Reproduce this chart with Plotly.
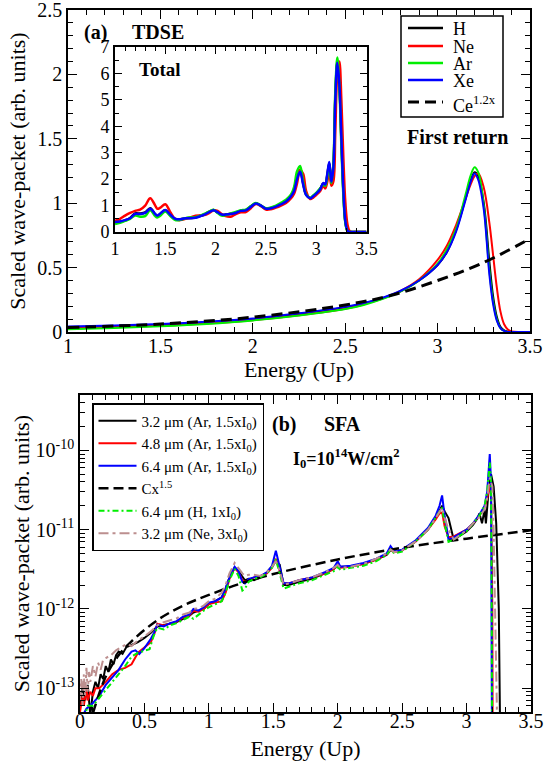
import plotly.graph_objects as go

# ---------------- data: panel (a) first return ----------------
X_FR = [1.0, 1.25, 1.5, 1.75, 2.0, 2.25, 2.5, 2.6, 2.7, 2.8, 2.9, 3.0, 3.05, 3.1,
        3.15, 3.18, 3.2, 3.22, 3.25, 3.28, 3.3, 3.32, 3.34, 3.36, 3.38, 3.4, 3.45, 3.5]
FR_H = [0.034, 0.043, 0.056, 0.074, 0.10, 0.14, 0.19, 0.22, 0.26, 0.315, 0.40, 0.52, 0.62, 0.79,
        1.03, 1.18, 1.24, 1.21, 1.0, 0.55, 0.28, 0.12, 0.04, 0.012, 0.003, 0.0, 0.0, 0.0]
FR_NE = [0.028, 0.036, 0.048, 0.066, 0.092, 0.13, 0.18, 0.215, 0.26, 0.32, 0.41, 0.56, 0.67, 0.83,
         1.03, 1.15, 1.21, 1.23, 1.12, 0.85, 0.60, 0.35, 0.16, 0.06, 0.02, 0.004, 0.0, 0.0]
FR_AR = [0.022, 0.032, 0.045, 0.063, 0.09, 0.128, 0.178, 0.21, 0.255, 0.315, 0.40, 0.53, 0.64, 0.80,
         1.06, 1.22, 1.28, 1.24, 0.98, 0.48, 0.24, 0.10, 0.03, 0.008, 0.0, 0.0, 0.0, 0.0]
FR_XE = [0.042, 0.05, 0.062, 0.08, 0.105, 0.145, 0.195, 0.225, 0.265, 0.32, 0.40, 0.52, 0.62, 0.78,
         1.02, 1.17, 1.23, 1.18, 0.95, 0.45, 0.22, 0.09, 0.03, 0.008, 0.0, 0.0, 0.0, 0.0]
X_CE = [1.0, 1.5, 2.0, 2.5, 2.75, 3.0, 3.25, 3.5]
Y_CE = [0.035, 0.062, 0.115, 0.21, 0.285, 0.40, 0.54, 0.725]
LEGEND_A = ["H", "Ne", "Ar", "Xe", "Ce<sup>1.2x</sup>"]

# ---------------- data: inset "Total" ----------------
X_TOT = [1.0, 1.05, 1.1, 1.15, 1.2, 1.25, 1.3, 1.35, 1.4, 1.42, 1.45, 1.5, 1.55, 1.6, 1.65, 1.7,
         1.75, 1.8, 1.85, 1.9, 1.95, 1.98, 2.02, 2.06, 2.1, 2.15, 2.2, 2.25, 2.3, 2.35, 2.4, 2.45,
         2.5, 2.55, 2.6, 2.65, 2.7, 2.75, 2.78, 2.81, 2.84, 2.87, 2.9, 2.94, 2.97, 3.0, 3.04, 3.07,
         3.09, 3.11, 3.13, 3.15, 3.17, 3.19, 3.21, 3.23, 3.25, 3.27, 3.29, 3.31, 3.33, 3.35, 3.4, 3.5]
TOT_H = [0.36, 0.39, 0.44, 0.53, 0.70, 0.70, 0.74, 0.90, 0.66, 0.60, 0.68, 0.82, 0.63, 0.49, 0.48, 0.52,
         0.53, 0.55, 0.61, 0.69, 0.79, 0.83, 0.74, 0.65, 0.66, 0.69, 0.73, 0.81, 0.83, 0.96, 1.09, 1.0,
         0.88, 0.91, 0.97, 1.06, 1.17, 1.37, 1.6, 2.1, 2.35, 1.85, 1.42, 1.28, 1.35, 1.46, 1.63, 1.84,
         1.78, 2.15, 2.6, 1.88, 2.45, 5.1, 6.45, 5.6, 3.5, 1.55, 0.38, 0.05, 0.0, 0.0, 0.0, 0.0]
TOT_NE = [0.42, 0.50, 0.62, 0.72, 0.80, 0.85, 1.0, 1.28, 1.0, 0.88, 0.92, 1.05, 0.75, 0.48, 0.45, 0.50,
          0.55, 0.62, 0.63, 0.65, 0.75, 0.82, 0.80, 0.68, 0.60, 0.58, 0.68, 0.75, 0.75, 0.90, 1.06, 0.98,
          0.85, 0.86, 0.92, 1.0, 1.10, 1.28, 1.45, 1.85, 2.35, 2.2, 1.55, 1.25, 1.30, 1.40, 1.55, 1.75,
          1.65, 1.9, 2.4, 1.75, 1.9, 3.8, 6.0, 6.45, 5.0, 2.8, 1.1, 0.3, 0.05, 0.0, 0.0, 0.0]
TOT_AR = [0.30, 0.35, 0.42, 0.50, 0.62, 0.58, 0.60, 0.82, 0.60, 0.55, 0.62, 0.78, 0.60, 0.45, 0.46, 0.52,
          0.55, 0.56, 0.62, 0.70, 0.80, 0.84, 0.72, 0.62, 0.64, 0.70, 0.76, 0.82, 0.85, 0.98, 1.10, 1.0,
          0.90, 0.93, 1.0, 1.1, 1.22, 1.42, 1.7, 2.3, 2.5, 1.9, 1.42, 1.3, 1.38, 1.48, 1.65, 1.80,
          1.75, 2.1, 2.5, 1.85, 2.5, 5.3, 6.6, 5.5, 3.3, 1.4, 0.35, 0.05, 0.0, 0.0, 0.0, 0.0]
TOT_XE = [0.38, 0.40, 0.45, 0.52, 0.68, 0.68, 0.72, 0.88, 0.68, 0.62, 0.70, 0.83, 0.65, 0.50, 0.48, 0.52,
          0.52, 0.54, 0.60, 0.68, 0.78, 0.82, 0.75, 0.66, 0.66, 0.68, 0.72, 0.80, 0.82, 0.95, 1.08, 1.0,
          0.88, 0.90, 0.96, 1.05, 1.15, 1.35, 1.55, 2.0, 2.28, 1.8, 1.40, 1.28, 1.35, 1.45, 1.62, 1.85,
          1.80, 2.2, 2.65, 1.9, 2.4, 5.0, 6.4, 5.6, 3.6, 1.6, 0.40, 0.06, 0.0, 0.0, 0.0, 0.0]

# ---------------- data: panel (b) SFA ----------------
XB = [0.60, 0.65, 0.70, 0.75, 0.80, 0.85, 0.88, 0.92, 0.96, 1.00, 1.05, 1.10, 1.13, 1.16, 1.20, 1.23,
      1.26, 1.28, 1.31, 1.35, 1.40, 1.45, 1.49, 1.52, 1.55, 1.58, 1.62, 1.70, 1.80, 1.90, 1.97, 2.00,
      2.02, 2.10, 2.20, 2.30, 2.38, 2.41, 2.44, 2.50, 2.60, 2.70, 2.76, 2.79, 2.81, 2.83, 2.86, 2.90, 3.00]

AR32_LO_X = [0.0, 0.02, 0.04, 0.06, 0.08, 0.1, 0.12, 0.14, 0.16, 0.18, 0.2, 0.22, 0.24, 0.26, 0.28,
             0.3, 0.33, 0.36, 0.4, 0.45, 0.5, 0.55]
AR32_LO_Y = [6e-14, 1.0e-13, 7e-14, 1.1e-13, 4.5e-14, 9e-14, 1.2e-13, 1.0e-13, 1.5e-13, 1.3e-13, 1.9e-13,
             1.6e-13, 2.3e-13, 2.0e-13, 2.6e-13, 2.9e-13, 2.7e-13, 3.3e-13, 3.5e-13, 3.8e-13, 4.3e-13, 5.0e-13]
AR32_MID = [6.0e-13, 6.3e-13, 6.5e-13, 6.8e-13, 7.5e-13, 8.2e-13, 9.0e-13, 9.5e-13, 1.0e-12, 1.15e-12,
            1.25e-12, 1.4e-12, 1.8e-12, 2.5e-12, 3.3e-12, 3.0e-12, 2.5e-12, 2.3e-12, 2.4e-12, 2.3e-12,
            2.5e-12, 2.9e-12, 3.4e-12, 4.0e-12, 3.6e-12, 2.0e-12, 2.0e-12, 2.2e-12, 2.4e-12, 2.8e-12,
            3.2e-12, 3.6e-12, 3.4e-12, 3.4e-12, 3.7e-12, 4.2e-12, 4.8e-12, 5.5e-12, 5.3e-12, 5.5e-12,
            7.0e-12, 1.0e-11, 1.4e-11, 1.7e-11, 2.0e-11, 1.7e-11, 1.4e-11, 7.5e-12, 9.5e-12]
AR32_HI_X = [3.05, 3.08, 3.10, 3.12, 3.14, 3.15, 3.17, 3.19, 3.21, 3.23, 3.25, 3.265, 3.27]
AR32_HI_Y = [1.15e-11, 1.35e-11, 1.6e-11, 1.2e-11, 1.8e-11, 1.2e-11, 3.0e-11, 5.0e-11, 3.5e-11,
             1.2e-11, 1.0e-12, 8e-14, 1e-15]

AR48_LO_X = [0.0, 0.02, 0.03, 0.05, 0.06, 0.08, 0.1, 0.12, 0.15, 0.2, 0.25, 0.3, 0.35, 0.4, 0.45,
             0.5, 0.55, 0.58]
AR48_LO_Y = [5e-14, 8e-14, 6e-14, 1.0e-13, 7e-14, 9e-14, 8e-14, 1.0e-13, 1.0e-13, 1.2e-13, 1.5e-13,
             1.7e-13, 1.8e-13, 2.0e-13, 2.8e-13, 3.3e-13, 3.8e-13, 5.0e-13]
AR48_MID = [6.5e-13, 6.2e-13, 6.5e-13, 6.9e-13, 7.8e-13, 8.3e-13, 9.5e-13, 9.2e-13, 1.0e-12, 1.15e-12,
            1.2e-12, 1.25e-12, 1.6e-12, 2.4e-12, 3.3e-12, 2.9e-12, 2.3e-12, 2.2e-12, 2.3e-12, 2.5e-12,
            2.6e-12, 2.8e-12, 3.3e-12, 4.3e-12, 3.0e-12, 2.1e-12, 2.1e-12, 2.3e-12, 2.5e-12, 2.8e-12,
            3.2e-12, 3.6e-12, 3.3e-12, 3.4e-12, 3.7e-12, 4.2e-12, 4.9e-12, 5.6e-12, 5.2e-12, 5.5e-12,
            7.0e-12, 1.0e-11, 1.35e-11, 1.6e-11, 1.65e-11, 1.1e-11, 8.0e-12, 8.2e-12, 1.0e-11]
AR48_HI_X = [3.05, 3.10, 3.14, 3.16, 3.18, 3.19, 3.20, 3.205]
AR48_HI_Y = [1.2e-11, 1.5e-11, 1.9e-11, 2.5e-11, 3.5e-11, 3.0e-11, 1e-12, 1e-15]

AR64_LO_X = [0.02, 0.05, 0.1, 0.15, 0.2, 0.25, 0.3, 0.35, 0.4, 0.43, 0.46, 0.5, 0.55, 0.58]
AR64_LO_Y = [4.5e-14, 5.5e-14, 6.5e-14, 8e-14, 1.1e-13, 1.35e-13, 1.7e-13, 2.3e-13, 2.9e-13, 3.0e-13,
             2.7e-13, 3.2e-13, 4.2e-13, 5.2e-13]
AR64_MID = [6.3e-13, 6.0e-13, 6.6e-13, 7.0e-13, 8.0e-13, 8.5e-13, 1.0e-12, 9.5e-13, 1.05e-12, 1.2e-12,
            1.25e-12, 1.4e-12, 1.8e-12, 2.5e-12, 3.4e-12, 3.0e-12, 2.2e-12, 2.1e-12, 2.4e-12, 2.5e-12,
            2.6e-12, 2.9e-12, 3.5e-12, 5.4e-12, 3.5e-12, 2.1e-12, 2.1e-12, 2.3e-12, 2.5e-12, 2.9e-12,
            3.3e-12, 4.0e-12, 3.4e-12, 3.5e-12, 3.8e-12, 4.3e-12, 5.0e-12, 6.2e-12, 5.3e-12, 5.6e-12,
            7.2e-12, 1.05e-11, 1.5e-11, 2.0e-11, 2.7e-11, 1.5e-11, 7.5e-12, 8.0e-12, 1.0e-11]
AR64_HI_X = [3.05, 3.10, 3.14, 3.16, 3.18, 3.19, 3.195, 3.20]
AR64_HI_Y = [1.2e-11, 1.55e-11, 2.0e-11, 3.0e-11, 9.0e-11, 4.0e-11, 1e-12, 1e-15]

H64_LO_X = [0.03, 0.06, 0.1, 0.15, 0.2, 0.25, 0.3, 0.35, 0.4, 0.45, 0.5, 0.54, 0.57]
H64_LO_Y = [4e-14, 6e-14, 6e-14, 7.5e-14, 9.5e-14, 1.2e-13, 1.5e-13, 1.9e-13, 2.5e-13, 2.8e-13,
            3.0e-13, 3.1e-13, 4.5e-13]
H64_MID = [5.8e-13, 5.5e-13, 6.2e-13, 6.6e-13, 7.2e-13, 8.0e-13, 7.5e-13, 8.5e-13, 9.5e-13, 1.05e-12,
           1.15e-12, 1.25e-12, 1.6e-12, 2.3e-12, 3.2e-12, 2.6e-12, 1.7e-12, 1.8e-12, 2.2e-12, 2.4e-12,
           2.5e-12, 2.8e-12, 3.3e-12, 4.2e-12, 2.8e-12, 1.8e-12, 1.9e-12, 2.1e-12, 2.3e-12, 2.7e-12,
           3.0e-12, 3.4e-12, 3.1e-12, 3.3e-12, 3.5e-12, 4.0e-12, 4.8e-12, 5.6e-12, 5.0e-12, 5.3e-12,
           7.0e-12, 1.0e-11, 1.4e-11, 1.7e-11, 1.9e-11, 1.2e-11, 7.0e-12, 7.5e-12, 9.5e-12]
H64_HI_X = [3.05, 3.10, 3.14, 3.16, 3.18, 3.19, 3.195, 3.20]
H64_HI_Y = [1.2e-11, 1.5e-11, 2.0e-11, 3.0e-11, 7.0e-11, 4.0e-11, 1e-12, 1e-15]

NE32_LO_X = [0.0, 0.01, 0.02, 0.03, 0.04, 0.05, 0.06, 0.07, 0.08, 0.1, 0.12, 0.14, 0.16, 0.18, 0.2,
             0.24, 0.28, 0.32, 0.36, 0.4, 0.45, 0.5, 0.55]
NE32_LO_Y = [7e-14, 1.3e-13, 6e-14, 1.5e-13, 8e-14, 1.8e-13, 9e-14, 1.6e-13, 1.2e-13, 1.9e-13, 1.4e-13,
             2.1e-13, 1.7e-13, 2.3e-13, 2.4e-13, 2.6e-13, 3.0e-13, 3.3e-13, 3.6e-13, 3.4e-13, 4.0e-13,
             4.5e-13, 5.2e-13]
NE32_MID = [6.2e-13, 6.8e-13, 7.2e-13, 7.6e-13, 8.5e-13, 9.0e-13, 1.0e-12, 1.02e-12, 1.1e-12, 1.25e-12,
            1.35e-12, 1.6e-12, 2.0e-12, 2.8e-12, 3.8e-12, 3.2e-12, 2.8e-12, 2.6e-12, 2.7e-12, 2.7e-12,
            2.6e-12, 2.9e-12, 3.4e-12, 4.0e-12, 3.0e-12, 2.0e-12, 2.1e-12, 2.3e-12, 2.5e-12, 2.9e-12,
            3.3e-12, 3.6e-12, 3.3e-12, 3.4e-12, 3.7e-12, 4.3e-12, 5.0e-12, 5.6e-12, 5.2e-12, 5.5e-12,
            7.0e-12, 1.0e-11, 1.4e-11, 1.7e-11, 1.9e-11, 1.4e-11, 1.0e-11, 7.5e-12, 9.8e-12]
NE32_HI_X = [3.05, 3.10, 3.14, 3.16, 3.18, 3.20, 3.21, 3.22, 3.235, 3.24]
NE32_HI_Y = [1.2e-11, 1.45e-11, 1.8e-11, 2.5e-11, 4.5e-11, 3.5e-11, 1e-11, 1e-12, 6e-14, 1e-15]

X_CX = [0.1, 0.2, 0.3, 0.4, 0.6, 0.8, 1.0, 1.25, 1.5, 2.0, 2.5, 3.0, 3.5]
Y_CX = [4.8e-14, 1.4e-13, 2.6e-13, 3.9e-13, 7.2e-13, 1.1e-12, 1.5e-12, 2.1e-12, 2.75e-12, 4.2e-12,
        5.9e-12, 7.7e-12, 9.8e-12]

# ---------------- figure ----------------
W, H = 554, 762
FONT = "Liberation Serif, Times New Roman, Times, serif"
BLACK, RED, GREEN, BLUE, BROWN = "#000000", "#ff0000", "#00ee00", "#0000ff", "#bc8f8f"


def px(v):
    return v / W


def py(v):
    return 1 - v / H


fig = go.Figure()

COLORS_A = [BLACK, RED, GREEN, BLUE]
for name, ys, col in zip(LEGEND_A[:4], [FR_H, FR_NE, FR_AR, FR_XE], COLORS_A):
    fig.add_trace(go.Scatter(x=X_FR, y=ys, mode="lines", name=name, line=dict(color=col, width=2),
                             line_shape="spline", xaxis="x", yaxis="y", showlegend=False))
fig.add_trace(go.Scatter(x=X_CE, y=Y_CE, mode="lines", name=LEGEND_A[4], line_shape="spline",
                         line=dict(color=BLACK, width=3, dash="11px,6px"), xaxis="x", yaxis="y",
                         showlegend=False))

for ys, col in zip([TOT_H, TOT_NE, TOT_AR, TOT_XE], COLORS_A):
    fig.add_trace(go.Scatter(x=X_TOT, y=ys, mode="lines", showlegend=False, line_shape="spline",
                             line=dict(color=col, width=2.5), xaxis="x2", yaxis="y2"))

series_b = [
    ("3.2 μm (Ar, 1.5xI<sub>0</sub>)", AR32_LO_X, AR32_LO_Y, AR32_MID, AR32_HI_X, AR32_HI_Y, BLACK, "solid"),
    ("4.8 μm (Ar, 1.5xI<sub>0</sub>)", AR48_LO_X, AR48_LO_Y, AR48_MID, AR48_HI_X, AR48_HI_Y, RED, "solid"),
    ("6.4 μm (Ar, 1.5xI<sub>0</sub>)", AR64_LO_X, AR64_LO_Y, AR64_MID, AR64_HI_X, AR64_HI_Y, BLUE, "solid"),
]
for name, lx, ly, mid, hx, hy, col, dash in series_b:
    fig.add_trace(go.Scatter(x=lx + XB + hx, y=ly + mid + hy, mode="lines", name=name,
                             line=dict(color=col, width=2, dash=dash), xaxis="x3", yaxis="y3",
                             legend="legend2"))
fig.add_trace(go.Scatter(x=X_CX, y=Y_CX, mode="lines", name="Cx<sup>1.5</sup>", line_shape="spline",
                         line=dict(color=BLACK, width=2.5, dash="10px,5px"), xaxis="x3", yaxis="y3",
                         legend="legend2"))
series_b2 = [
    ("6.4 μm (H, 1xI<sub>0</sub>)", H64_LO_X, H64_LO_Y, H64_MID, H64_HI_X, H64_HI_Y, GREEN, "6px,3px,2px,3px"),
    ("3.2 μm (Ne, 3xI<sub>0</sub>)", NE32_LO_X, NE32_LO_Y, NE32_MID, NE32_HI_X, NE32_HI_Y, BROWN, "10px,4px,3px,4px"),
]
for name, lx, ly, mid, hx, hy, col, dash in series_b2:
    fig.add_trace(go.Scatter(x=lx + XB + hx, y=ly + mid + hy, mode="lines", name=name,
                             line=dict(color=col, width=2, dash=dash), xaxis="x3", yaxis="y3",
                             legend="legend2"))

axis_common = dict(showline=True, linecolor=BLACK, linewidth=1.6, mirror="allticks", ticks="inside",
                   tickcolor=BLACK, tickwidth=1.2, ticklen=9, showgrid=False, zeroline=False,
                   automargin=False, ticklabeloverflow="allow",
                   tickfont=dict(family=FONT, size=20, color=BLACK))
minor_lin = dict(ticks="inside", ticklen=5, tickcolor=BLACK, tickwidth=1, showgrid=False)

minor_log = [k * 10.0 ** e for e in range(-14, -9) for k in range(2, 10)]

fig.update_layout(
    width=W, height=H, margin=dict(l=0, r=0, t=0, b=0),
    paper_bgcolor="white", plot_bgcolor="white",
    font=dict(family=FONT, color=BLACK),
    xaxis=dict(axis_common, domain=[px(68), px(530)], range=[1, 3.5], anchor="y", dtick=0.5, tick0=1,
               minor=dict(minor_lin, dtick=0.1), ticklabelstandoff=-5,
               title=dict(text="Energy (Up)", font=dict(family=FONT, size=22), standoff=0)),
    yaxis=dict(axis_common, domain=[py(332), py(10)], range=[0, 2.5], anchor="x", dtick=0.5, tick0=0,
               minor=dict(minor_lin, dtick=0.1),
               title=dict(text="Scaled wave-packet (arb. units)", font=dict(family=FONT, size=22), standoff=6)),
    xaxis2=dict(axis_common, domain=[px(115), px(366.5)], range=[1, 3.5], anchor="y2", dtick=0.5, tick0=1,
                tickfont=dict(family=FONT, size=18, color=BLACK), ticklen=7,
                minor=dict(minor_lin, dtick=0.1, ticklen=4)),
    yaxis2=dict(axis_common, domain=[py(232), py(47)], range=[0, 7], anchor="x2", dtick=1, tick0=0,
                tickfont=dict(family=FONT, size=18, color=BLACK), ticklen=7,
                minor=dict(minor_lin, dtick=0.5, ticklen=4)),
    xaxis3=dict(axis_common, domain=[px(80), px(531)], range=[0, 3.5], anchor="y3", dtick=0.5, tick0=0,
                minor=dict(minor_lin, dtick=0.1), ticklabelstandoff=-10,
                title=dict(text="Energy (Up)", font=dict(family=FONT, size=22), standoff=10)),
    yaxis3=dict(axis_common, domain=[py(712), py(395)], type="log", range=[-13.301, -9.301], anchor="x3",
                tickmode="array", tickvals=[1e-13, 1e-12, 1e-11, 1e-10],
                ticktext=["10<sup>-13</sup>", "10<sup>-12</sup>", "10<sup>-11</sup>", "10<sup>-10</sup>"],
                minor=dict(minor_lin, tickmode="array", tickvals=minor_log),
                title=dict(text="Scaled wave-packet (arb. units)", font=dict(family=FONT, size=22), standoff=0)),
    legend2=dict(x=px(92), y=py(403), xanchor="left", yanchor="top", bgcolor="white", bordercolor=BLACK,
                 borderwidth=1.5, font=dict(family=FONT, size=15, color=BLACK), tracegroupgap=0,
                 itemwidth=38),
)

# legend of panel (a): box, key lines and labels
fig.add_shape(type="rect", xref="paper", yref="paper", x0=px(401), x1=px(503), y0=py(117), y1=py(16),
              line=dict(color=BLACK, width=1.5), fillcolor="white", layer="above")
key_y = [28, 46, 63, 80, 102]
text_y = [29, 47, 64, 81, 104]
key_dash = ["solid", "solid", "solid", "solid", "11px,6px"]
key_w = [2.5, 2.5, 2.5, 2.5, 3]
for lab, col, ky, ty, kd, kw in zip(LEGEND_A, COLORS_A + [BLACK], key_y, text_y, key_dash, key_w):
    fig.add_shape(type="line", xref="paper", yref="paper", x0=px(408), x1=px(443), y0=py(ky), y1=py(ky),
                  line=dict(color=col, width=kw, dash=kd), layer="above")
    fig.add_annotation(text=lab, x=px(451), y=py(ty), xref="paper", yref="paper", showarrow=False,
                       xanchor="left", yanchor="middle", font=dict(family=FONT, size=18, color=BLACK))

annots = [
    ("<b>(a)</b>", 95, 32, 20), ("<b>TDSE</b>", 158, 32, 20), ("<b>First return</b>", 457, 137, 20),
    ("<b>Total</b>", 160, 70, 19), ("<b>(b)</b>", 284, 424, 20), ("<b>SFA</b>", 342, 424, 20),
    ("<b>I<sub>0</sub>=10<sup>14</sup>W/cm<sup>2</sup></b>", 346, 458, 18),
]
for txt, ax_, ay_, sz in annots:
    fig.add_annotation(text=txt, x=px(ax_), y=py(ay_), xref="paper", yref="paper", showarrow=False,
                       xanchor="center", yanchor="middle", font=dict(family=FONT, size=sz, color=BLACK))

fig.write_html("out.html", config={"displayModeBar": False},
               post_script="document.body.style.margin='0px'; document.body.style.overflow='hidden';")
